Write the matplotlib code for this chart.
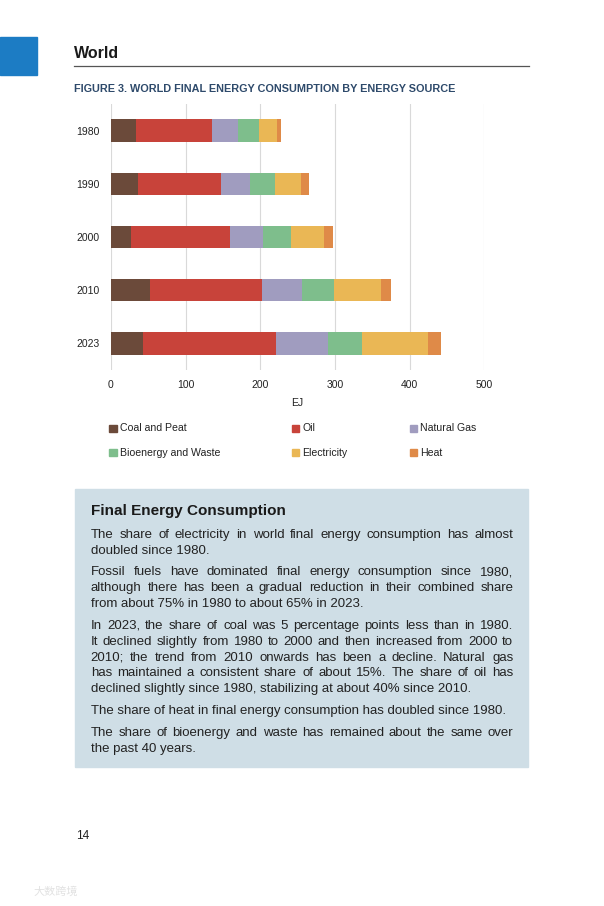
import matplotlib
matplotlib.use("Agg")
import matplotlib.pyplot as plt
from matplotlib.patches import Rectangle
import numpy as np

# ---------------- data ----------------
years = ["1980", "1990", "2000", "2010", "2023"]
sources = ["Coal and Peat", "Oil", "Natural Gas", "Bioenergy and Waste", "Electricity", "Heat"]
coal = [33.0, 36.2, 26.8, 52.2, 43.3]
oil = [102.7, 110.7, 132.6, 150.5, 177.2]
gas = [33.9, 39.3, 43.7, 53.5, 69.7]
bio = [28.6, 33.4, 37.5, 42.4, 45.9]
elec = [24.1, 34.9, 45.1, 63.0, 88.9]
heat = [5.4, 10.7, 11.6, 13.4, 17.0]
x_ticks = [0, 100, 200, 300, 400, 500]

colors = ["#6B4A3A", "#C8433A", "#A09CBF", "#7EBE8C", "#EAB755", "#DF8A48"]

W, H = 604, 906
FONT = "Liberation Sans"
plt.rcParams["font.family"] = [FONT, "DejaVu Sans"]

fig = plt.figure(figsize=(W / 100, H / 100), dpi=100)
fig.patch.set_facecolor("white")


def fx(px):
    return px / W


def fy(py):
    return 1 - py / H


# ---------------- header ----------------
fig.patches.append(Rectangle((fx(0), fy(75)), fx(37), 38 / H, transform=fig.transFigure,
                             color="#1C7CC4", zorder=1))
fig.text(fx(74), fy(53), "World", fontsize=11.5, fontweight="bold", color="#1a1a1a",
         va="center", ha="left")
fig.add_artist(plt.Line2D([fx(74), fx(529)], [fy(66), fy(66)], transform=fig.transFigure,
                          color="#555555", lw=0.9))
fig.text(fx(74), fy(89), "FIGURE 3. WORLD FINAL ENERGY CONSUMPTION BY ENERGY SOURCE",
         fontsize=7.8, fontweight="bold", color="#2E4A6B", va="center", ha="left")

# ---------------- chart ----------------
ax = fig.add_axes([fx(111), fy(370), (484.3 - 111) / W, (370 - 104) / H])
series = [coal, oil, gas, bio, elec, heat]
ypos = np.arange(len(years))
left = np.zeros(len(years))
for vals, col, name in zip(series, colors, sources):
    ax.barh(ypos, vals, left=left, height=0.42, color=col, label=name, zorder=3)
    left += np.array(vals)

ax.set_xlim(0, 500)
ax.set_ylim(len(years) - 0.5, -0.5)
ax.set_yticks(ypos)
ax.set_yticklabels(years)
ax.set_xticks(x_ticks)
ax.set_xticklabels([str(t) for t in x_ticks])
for s in ax.spines.values():
    s.set_visible(False)
ax.tick_params(axis="both", length=0, labelsize=7.5, colors="#222222")
ax.tick_params(axis="y", pad=8.5)
ax.tick_params(axis="x", pad=7)
ax.xaxis.grid(True, color="#D9D9D9", lw=0.8, zorder=0)
ax.set_axisbelow(True)
ax.patch.set_alpha(0)
fig.text(fx(297.5), fy(403.5), "EJ", fontsize=7.5, color="#222222", ha="center", va="center")

# ---------------- legend (manual) ----------------
leg_cols = [109.3, 292.0, 410.0]
leg_rows = [428.3, 452.7]
for i, (name, col) in enumerate(zip(sources, colors)):
    r, c = divmod(i, 3)
    x0 = leg_cols[c]
    yc = leg_rows[r]
    fig.patches.append(Rectangle((fx(x0), fy(yc + 3.7)), fx(7.4), 7.4 / H,
                                 transform=fig.transFigure, color=col))
    fig.text(fx(x0 + 10.5), fy(yc), name, fontsize=7.6, color="#222222",
             ha="left", va="center")

# ---------------- text box ----------------
fig.patches.append(Rectangle((fx(75), fy(766.5)), fx(528 - 75), (766.5 - 489) / H,
                             transform=fig.transFigure, color="#CFDEE6", zorder=0))
fig.text(fx(90.7), fy(511), "Final Energy Consumption", fontsize=11, fontweight="bold",
         color="#1a1a1a", ha="left", va="center")

paragraphs = [
    ["The share of electricity in world final energy consumption has almost",
     "doubled since 1980."],
    ["Fossil fuels have dominated final energy consumption since 1980,",
     "although there has been a gradual reduction in their combined share",
     "from about 75% in 1980 to about 65% in 2023."],
    ["In 2023, the share of coal was 5 percentage points less than in 1980.",
     "It declined slightly from 1980 to 2000 and then increased from 2000 to",
     "2010; the trend from 2010 onwards has been a decline. Natural gas",
     "has maintained a consistent share of about 15%. The share of oil has",
     "declined slightly since 1980, stabilizing at about 40% since 2010."],
    ["The share of heat in final energy consumption has doubled since 1980."],
    ["The share of bioenergy and waste has remained about the same over",
     "the past 40 years."],
]

renderer = fig.canvas.get_renderer()
x_left, x_right = 90.7, 513.3
line_step, para_gap = 15.85, 21.7
body_fs = 9.5
body_col = "#222222"
y = 533.3
for p in paragraphs:
    for li, line in enumerate(p):
        base = fy(y + 4.6)
        last = li == len(p) - 1
        if last:
            fig.text(fx(x_left), base, line, fontsize=body_fs, color=body_col,
                     ha="left", va="baseline")
        else:
            words = line.split(" ")
            texts = [fig.text(0, base, w, fontsize=body_fs, color=body_col,
                              ha="left", va="baseline") for w in words]
            widths = [t.get_window_extent(renderer).width for t in texts]
            gap = (x_right - x_left - sum(widths)) / (len(words) - 1)
            xc = x_left
            for t, wd in zip(texts, widths):
                t.set_x(fx(xc))
                xc += wd + gap
        y += line_step
    y += para_gap - line_step

# ---------------- page number & watermark ----------------
fig.text(fx(83), fy(836), "14", fontsize=8.6, color="#222222", ha="center", va="center")
fig.text(fx(33), fy(892), "大数跨境", fontsize=8, color="#E2E2E2", ha="left", va="center",
         family=["Noto Sans CJK SC", "DejaVu Sans"])

fig.savefig("out.png", dpi=100, facecolor="white")
